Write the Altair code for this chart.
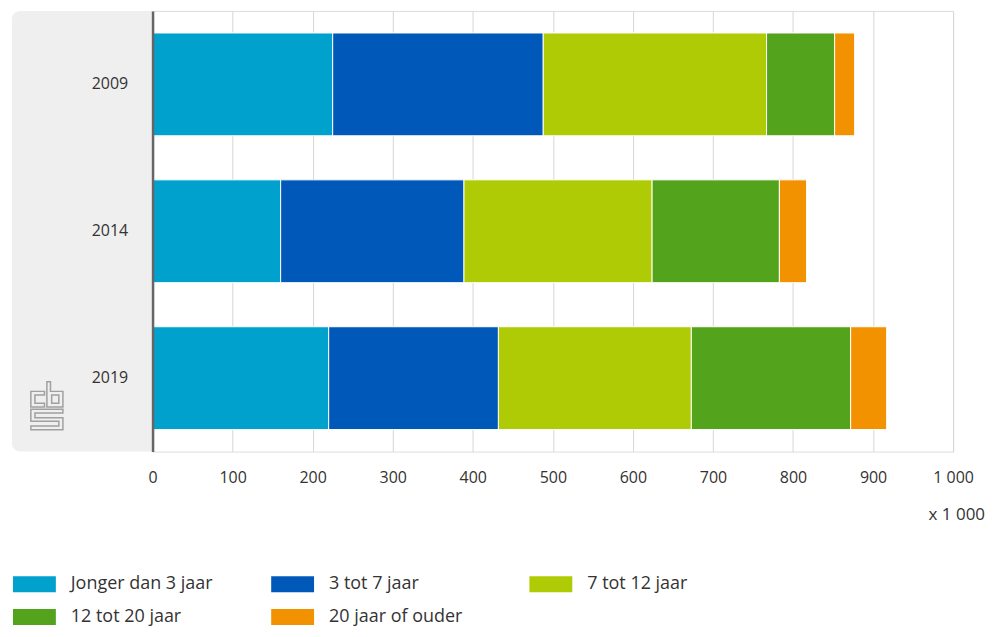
import altair as alt
import pandas as pd

years = ["2009", "2014", "2019"]
categories = ["Jonger dan 3 jaar", "3 tot 7 jaar", "7 tot 12 jaar", "12 tot 20 jaar", "20 jaar of ouder"]
colors = ["#00A1CD", "#0058B8", "#AFCB05", "#53A31D", "#F39200"]
v_2009 = [225, 263, 279, 85, 25]
v_2014 = [160, 229, 235, 159, 34]
v_2019 = [220, 212, 241, 199, 45]
x_ticks = [0, 100, 200, 300, 400, 500, 600, 700, 800, 900, 1000]
unit_label = "x 1 000"

rows = []
for y, vals in zip(years, [v_2009, v_2014, v_2019]):
    for i, (c, v) in enumerate(zip(categories, vals)):
        rows.append({"jaar": y, "leeftijd": c, "aantal": v, "volgorde": i})
df = pd.DataFrame(rows)

W, H = 803, 442
FONT = "Open Sans"
TXT = "#333333"

panel = alt.Chart(pd.DataFrame({"p": [0]})).mark_rect(
    color="#EFEFEF", cornerRadiusTopLeft=8, cornerRadiusBottomLeft=8
).encode(x=alt.value(-141), x2=alt.value(0), y=alt.value(0), y2=alt.value(H))

logo_path = (
    "M-0.67,-0.6H-0.1V-0.45H-0.5V-0.1H-0.1V0.05H-0.67Z "
    "M0,-1H0.15V-0.6H0.67V0.05H0Z "
    "M0.2,-0.45H0.5V-0.1H0.2Z "
    "M-0.67,0.15H0.67V0.3H-0.5V0.5H0.67V1H-0.67V0.85H0.5V0.65H-0.67Z"
)
logo = alt.Chart(pd.DataFrame({"p": [0]})).mark_point(
    shape=logo_path, filled=False, stroke="#A0A0A0", strokeWidth=1.5, opacity=1
).encode(x=alt.value(-106), y=alt.value(396), size=alt.value(2304))

bars = alt.Chart(df).mark_bar(stroke="white", strokeWidth=1).encode(
    x=alt.X(
        "aantal:Q",
        stack="zero",
        scale=alt.Scale(domain=[0, 1000], nice=False),
        axis=alt.Axis(
            values=x_ticks, grid=True, gridColor="#D6D6D6", gridWidth=1,
            domain=False, ticks=False, labelPadding=18, labelFontSize=16,
            labelColor=TXT, labelFlush=False, title=None,
            labelExpr="replace(format(datum.value, ','), ',', ' ')",
        ),
    ),
    y=alt.Y(
        "jaar:N",
        sort=years,
        scale=alt.Scale(paddingInner=0.3, paddingOuter=0.15),
        axis=alt.Axis(
            title=None, ticks=False, domainColor="#666666", domainWidth=2.5,
            labelPadding=25, labelFontSize=16, labelColor=TXT, grid=False,
            zindex=1,
        ),
    ),
    color=alt.Color(
        "leeftijd:N",
        scale=alt.Scale(domain=categories, range=colors),
        legend=alt.Legend(
            orient="none", legendX=-141, legendY=566, columns=3,
            direction="horizontal",
            gridAlign="all", columnPadding=57, rowPadding=15,
            symbolType="M-1,-1H4.375V1H-1Z", symbolSize=256,
            symbolStrokeWidth=0, symbolOpacity=1, labelFontSize=18,
            labelColor=TXT, labelOffset=41, title=None, labelLimit=300,
        ),
    ),
    order=alt.Order("volgorde:Q"),
)

unit_text = alt.Chart(pd.DataFrame({"t": [unit_label]})).mark_text(
    align="right", baseline="middle", fontSize=17, color=TXT
).encode(x=alt.value(835), y=alt.value(506), text="t:N")

chart = alt.layer(panel, logo, bars, unit_text).properties(
    width=W, height=H,
    padding={"left": 145, "top": 2, "right": 34, "bottom": 177},
    autosize="none",
).configure_view(stroke=None).configure(font=FONT)

chart.save("out.html", embed_options={"renderer": "svg", "actions": False})
